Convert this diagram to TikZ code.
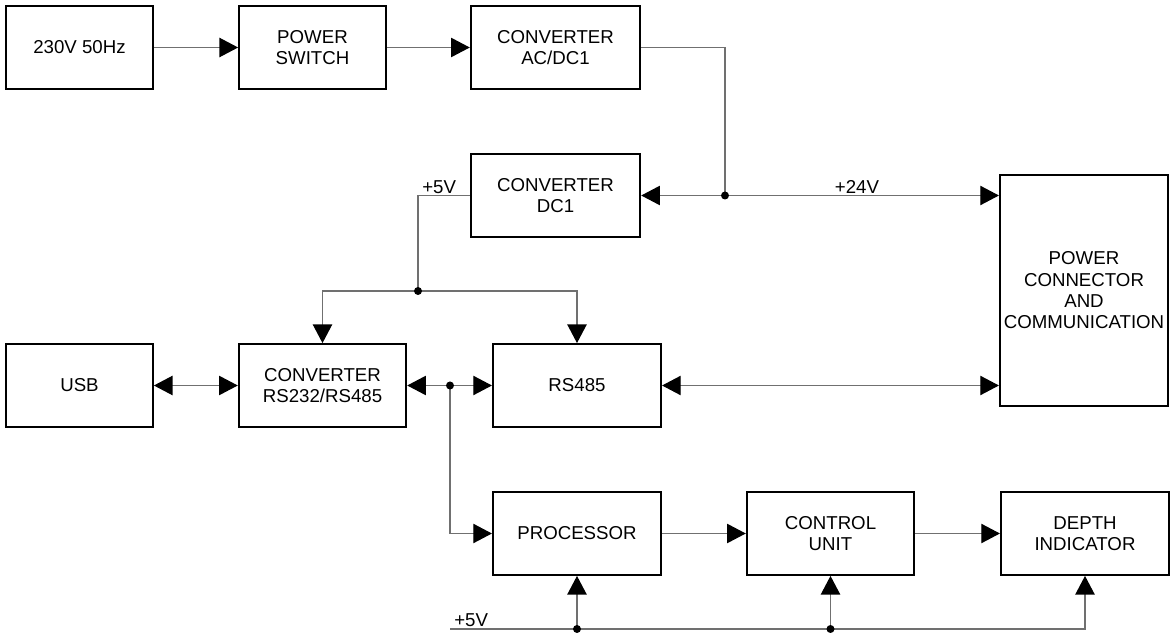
\documentclass[tikz,border=0pt]{standalone}
\usepackage{fontspec}
\setmainfont{Liberation Sans}
\usetikzlibrary{arrows.meta,calc}
\definecolor{WireClr}{RGB}{112,112,112}
\definecolor{BoxClr}{RGB}{0,0,0}

\tikzset{
  blk/.style={draw=BoxClr,line width=1.6pt,minimum height=62pt,inner sep=0pt,
    align=center,font=\fontsize{14}{16}\selectfont},
  wire/.style={draw=WireClr,line width=0.9pt},
  dot/.style={circle,fill=black,inner sep=0pt,minimum size=6pt},
  lbl/.style={inner sep=1.5pt,font=\fontsize{14}{16}\selectfont}
}

\begin{document}
\begin{tikzpicture}[x=0.75pt,y=-0.75pt,>={Triangle[length=14pt,width=14.5pt,color=black]}]
\useasboundingbox (0,0) rectangle (1172,634);

% Blocks of the supply chain.
\node[blk,minimum width=110pt] (mains) at (79.5,47.5) {230V 50Hz};
\node[blk,minimum width=110pt] (sw) at (312.5,47.5) {POWER\\SWITCH};
\node[blk,minimum width=127pt] (acdc) at (555.5,47.5) {CONVERTER\\AC/DC1};
\node[blk,minimum width=127pt] (dcdc) at (555.5,195.5) {CONVERTER\\DC1};
\node[blk,minimum width=126pt,minimum height=173pt] (pcc) at (1084,290.5) {POWER\\CONNECTOR\\AND\\COMMUNICATION};

% Blocks of the data chain.
\node[blk,minimum width=110pt] (usb) at (79.5,385.5) {USB};
\node[blk,minimum width=125.5pt] (conv) at (322.5,385.5) {CONVERTER\\RS232/RS485};
\node[blk,minimum width=126pt] (rs) at (577,385.5) {RS485};
\node[blk,minimum width=126pt] (cpu) at (577,533.5) {PROCESSOR};
\node[blk,minimum width=125.5pt] (ctl) at (830.5,533.5) {CONTROL\\UNIT};
\node[blk,minimum width=126pt] (depth) at (1085,533.5) {DEPTH\\INDICATOR};

% Branch points.
\coordinate (j24) at (725,195.5);
\coordinate (j5) at (418,291);
\coordinate (jd) at (450,385.5);
\coordinate (bus) at (450,629);

% Mains side.
\draw[wire,->] (mains) -- (sw);
\draw[wire,->] (sw) -- (acdc);
\draw[wire] (acdc.east) -| (j24);
\draw[wire,->] (j24) -- (dcdc.east);
\draw[wire,->] (j24) -- (j24 -| pcc.west);
\node[lbl,anchor=south] (v24) at (857,195.5) {+24V};

% +5V out of the DC converter.
\draw[wire] (dcdc.west) -| (j5);
\draw[wire,->] (j5) -| (conv.north);
\draw[wire,->] (j5) -| (rs.north);
\node[lbl,anchor=south west] (v5a) at (420,195.5) {+5V};

% Data lines.
\draw[wire,<->] (usb) -- (conv);
\draw[wire,<->] (conv) -- (rs);
\draw[wire,->] (jd) |- (cpu.west);
\draw[wire,<->] (rs.east) -- (rs.east -| pcc.west);
\draw[wire,->] (cpu) -- (ctl);
\draw[wire,->] (ctl) -- (depth);

% +5V bus along the bottom.
\draw[wire,->] (bus) -| (depth.south);
\draw[wire,->] (cpu.south |- bus) -- (cpu.south);
\draw[wire,->] (ctl.south |- bus) -- (ctl.south);
\node[lbl,anchor=south west] (v5b) at (452,629) {+5V};

\node[dot] at (j24) {};
\node[dot] at (j5) {};
\node[dot] at (jd) {};
\node[dot] at (cpu.south |- bus) {};
\node[dot] at (ctl.south |- bus) {};

\end{tikzpicture}
\end{document}
